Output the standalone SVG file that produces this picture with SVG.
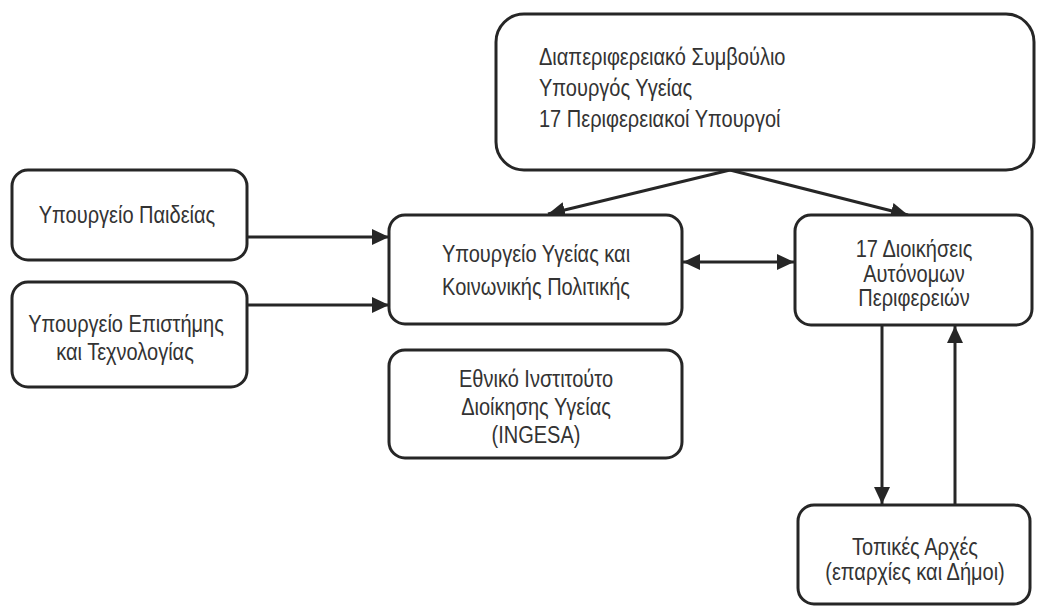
<svg xmlns="http://www.w3.org/2000/svg" width="1038" height="610" viewBox="0 0 1038 610">
<style>
.box{fill:#fff;stroke:#262626;stroke-width:3}
.t{font-family:"Liberation Sans",Arial,sans-serif;font-size:23px;fill:#333}
.c{text-anchor:middle}
.ln{stroke:#262626;stroke-width:3;fill:none}
</style>
<defs>
<marker id="ah" markerUnits="userSpaceOnUse" markerWidth="18" markerHeight="18" viewBox="0 0 18 18" refX="17" refY="9" orient="auto-start-reverse">
<path d="M0,1 L17,9 L0,17 z" fill="#262626"/>
</marker>
</defs>
<rect width="1038" height="610" fill="#fff"/>
<g id="connectors">
<line class="ln" x1="247" y1="237" x2="389" y2="237" marker-end="url(#ah)"/>
<line class="ln" x1="247" y1="305" x2="389" y2="305" marker-end="url(#ah)"/>
<line class="ln" x1="683" y1="262" x2="794" y2="262" marker-start="url(#ah)" marker-end="url(#ah)"/>
<line class="ln" x1="730" y1="170" x2="548" y2="214" marker-end="url(#ah)"/>
<line class="ln" x1="730" y1="170" x2="908" y2="215" marker-end="url(#ah)"/>
<line class="ln" x1="882" y1="325" x2="882" y2="504" marker-end="url(#ah)"/>
<line class="ln" x1="955" y1="505" x2="955" y2="326" marker-end="url(#ah)"/>
</g>
<g id="council">
<rect class="box" x="496" y="14" width="538" height="156" rx="28"/>
<text class="t" transform="matrix(0.87 0 0 1 539 65)">Διαπεριφερειακό Συμβούλιο</text>
<text class="t" transform="matrix(0.87 0 0 1 539 96)">Υπουργός Υγείας</text>
<text class="t" transform="matrix(0.87 0 0 1 539 127)">17 Περιφερειακοί Υπουργοί</text>
</g>
<g id="education">
<rect class="box" x="12" y="170" width="235" height="90" rx="16"/>
<text class="t c" transform="matrix(0.87 0 0 1 127 223)">Υπουργείο Παιδείας</text>
</g>
<g id="science">
<rect class="box" x="12" y="282" width="235" height="105" rx="16"/>
<text class="t c" transform="matrix(0.87 0 0 1 126 332)">Υπουργείο Επιστήμης</text>
<text class="t c" transform="matrix(0.87 0 0 1 125 360)">και Τεχνολογίας</text>
</g>
<g id="health">
<rect class="box" x="389" y="215" width="293" height="109" rx="16"/>
<text class="t c" transform="matrix(0.87 0 0 1 536 262)">Υπουργείο Υγείας και</text>
<text class="t c" transform="matrix(0.87 0 0 1 536 295)">Κοινωνικής Πολιτικής</text>
</g>
<g id="ingesa">
<rect class="box" x="389" y="350" width="293" height="108" rx="16"/>
<text class="t c" transform="matrix(0.87 0 0 1 536 387)">Εθνικό Ινστιτούτο</text>
<text class="t c" transform="matrix(0.87 0 0 1 536 415)">Διοίκησης Υγείας</text>
<text class="t c" transform="matrix(0.87 0 0 1 536 443)">(INGESA)</text>
</g>
<g id="regions">
<rect class="box" x="795" y="215" width="237" height="110" rx="16"/>
<text class="t c" transform="matrix(0.87 0 0 1 914 257)">17 Διοικήσεις</text>
<text class="t c" transform="matrix(0.87 0 0 1 914 282)">Αυτόνομων</text>
<text class="t c" transform="matrix(0.87 0 0 1 914 306)">Περιφερειών</text>
</g>
<g id="local">
<rect class="box" x="798" y="505" width="232" height="99" rx="16"/>
<text class="t c" transform="matrix(0.87 0 0 1 915 555)">Τοπικές Αρχές</text>
<text class="t c" transform="matrix(0.87 0 0 1 915 580)">(επαρχίες και Δήμοι)</text>
</g>
</svg>
